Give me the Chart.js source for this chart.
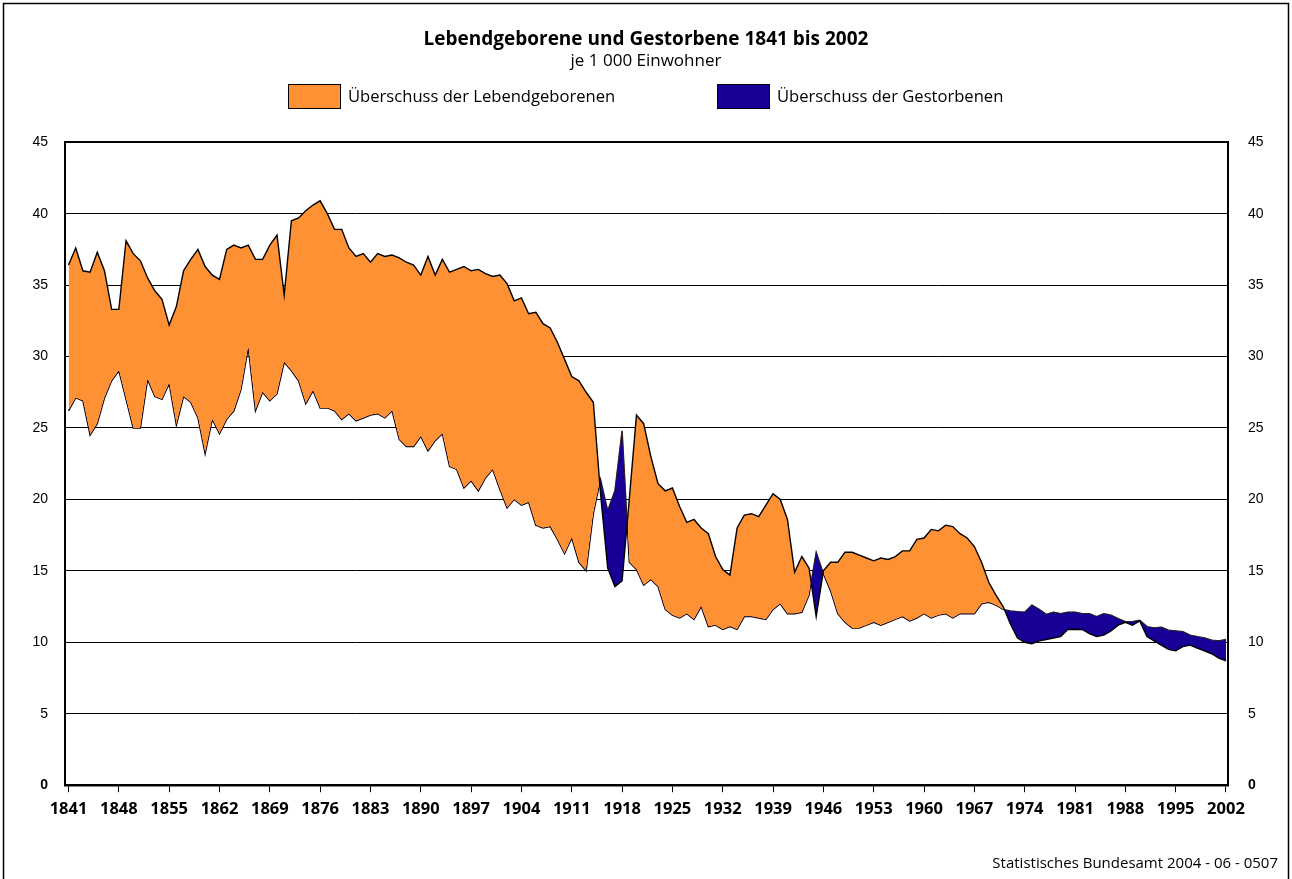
<!DOCTYPE html>
<html>
<head>
<meta charset="utf-8">
<script src="https://cdn.jsdelivr.net/npm/chart.js@4.4.1/dist/chart.umd.min.js"></script>
<style>
html,body{margin:0;padding:0;background:#fff;}
#wrap{width:1292px;height:879px;position:relative;background:#fff;}
</style>
</head>
<body>
<div id="wrap"><canvas id="c" width="1292" height="879"></canvas></div>
<script>
// ---- data ----
const firstYear = 1841;
const lastYear = 2002;
const years = [];
for (let y = firstYear; y <= lastYear; y++) years.push(y);

// Lebendgeborene je 1 000 Einwohner (1841 ... 2002)
const births = [
  36.4, 37.6, 36.0, 35.9, 37.3, 36.0, 33.3, 33.3, 38.1, 37.2,
  36.7, 35.5, 34.6, 34.0, 32.2, 33.5, 36.0, 36.8, 37.5, 36.3,
  35.7, 35.4, 37.5, 37.8, 37.6, 37.8, 36.8, 36.8, 37.8, 38.5,
  34.3, 39.5, 39.7, 40.2, 40.6, 40.9, 40.0, 38.9, 38.9, 37.6,
  37.0, 37.2, 36.6, 37.2, 37.0, 37.1, 36.9, 36.6, 36.4, 35.7,
  37.0, 35.7, 36.8, 35.9, 36.1, 36.3, 36.0, 36.1, 35.8, 35.6,
  35.7, 35.1, 33.9, 34.1, 33.0, 33.1, 32.3, 32.0, 31.0, 29.8,
  28.6, 28.3, 27.5, 26.8, 20.4, 15.2, 13.9, 14.3, 20.0, 25.9,
  25.3, 23.0, 21.1, 20.6, 20.8, 19.5, 18.4, 18.6, 18.0, 17.6,
  16.0, 15.1, 14.7, 18.0, 18.9, 19.0, 18.8, 19.6, 20.4, 20.0,
  18.6, 14.9, 16.0, 15.2, 11.8, 15.0, 15.6, 15.6, 16.3, 16.3,
  16.1, 15.9, 15.7, 15.9, 15.8, 16.0, 16.4, 16.4, 17.2, 17.3,
  17.9, 17.8, 18.2, 18.1, 17.6, 17.3, 16.7, 15.6, 14.2, 13.3,
  12.5, 11.3, 10.3, 10.0, 9.9, 10.1, 10.2, 10.3, 10.4, 10.9,
  10.9, 10.9, 10.6, 10.4, 10.5, 10.8, 11.2, 11.4, 11.2, 11.5,
  10.4, 10.1, 9.8, 9.5, 9.4, 9.7, 9.8, 9.6, 9.4, 9.2,
  8.9, 8.7
];

// Gestorbene je 1 000 Einwohner (1841 ... 2002)
const deaths = [
  26.2, 27.1, 26.9, 24.5, 25.3, 27.1, 28.3, 29.0, 27.0, 25.0,
  25.0, 28.4, 27.2, 27.0, 28.1, 25.2, 27.2, 26.8, 25.7, 23.2,
  25.6, 24.6, 25.6, 26.2, 27.7, 30.6, 26.2, 27.5, 26.9, 27.4,
  29.6, 29.0, 28.3, 26.7, 27.6, 26.4, 26.4, 26.2, 25.6, 26.0,
  25.5, 25.7, 25.9, 26.0, 25.7, 26.2, 24.2, 23.7, 23.7, 24.4,
  23.4, 24.1, 24.6, 22.3, 22.1, 20.8, 21.3, 20.6, 21.5, 22.1,
  20.7, 19.4, 20.0, 19.6, 19.8, 18.2, 18.0, 18.1, 17.2, 16.2,
  17.3, 15.6, 15.0, 19.0, 21.4, 19.2, 20.6, 24.8, 15.6, 15.1,
  14.0, 14.4, 13.9, 12.3, 11.9, 11.7, 12.0, 11.6, 12.5, 11.1,
  11.2, 10.9, 11.1, 10.9, 11.8, 11.8, 11.7, 11.6, 12.3, 12.7,
  12.0, 12.0, 12.1, 13.3, 16.3, 14.8, 13.6, 12.0, 11.4, 11.0,
  11.0, 11.2, 11.4, 11.2, 11.4, 11.6, 11.8, 11.5, 11.7, 12.0,
  11.7, 11.9, 12.0, 11.7, 12.0, 12.0, 12.0, 12.7, 12.8, 12.6,
  12.3, 12.2, 12.15, 12.1, 12.6, 12.3, 11.95, 12.1, 12.0, 12.1,
  12.1, 12.0, 12.0, 11.8, 12.0, 11.9, 11.65, 11.45, 11.45, 11.55,
  11.1, 11.0, 11.05, 10.85, 10.8, 10.75, 10.5, 10.4, 10.3, 10.15,
  10.1, 10.2
];

const xTickYears = [1841, 1848, 1855, 1862, 1869, 1876, 1883, 1890, 1897, 1904, 1911, 1918,
  1925, 1932, 1939, 1946, 1953, 1960, 1967, 1974, 1981, 1988, 1995, 2002];
const yTickValues = [0, 5, 10, 15, 20, 25, 30, 35, 40, 45];

const titleText = 'Lebendgeborene und Gestorbene 1841 bis 2002';
const subtitleText = 'je 1 000 Einwohner';
const legendLabels = ['Überschuss der Lebendgeborenen', 'Überschuss der Gestorbenen'];
const sourceText = 'Statistisches Bundesamt 2004 - 06 - 0507';

// ---- styles ----
const ORANGE = '#FF9135';
const NAVY = '#160096';
const FONT = "'Open Sans', 'DejaVu Sans', sans-serif";
const AXISFONT = "'Liberation Sans', Arial, sans-serif";

const birthsPts = years.map((y, i) => ({x: y, y: births[i]}));
const deathsPts = years.map((y, i) => ({x: y, y: deaths[i]}));

const decorPlugin = {
  id: 'decor',
  afterDraw(chart) {
    const ctx = chart.ctx;
    ctx.save();
    // legend
    const legendPos = [288, 717];
    const colors = [ORANGE, NAVY];
    ctx.font = '16.6px ' + FONT;
    ctx.textBaseline = 'middle';
    ctx.textAlign = 'left';
    legendLabels.forEach((t, i) => {
      const x = legendPos[i];
      ctx.fillStyle = colors[i];
      ctx.fillRect(x, 84, 52, 24);
      ctx.strokeStyle = '#000';
      ctx.lineWidth = 1;
      ctx.strokeRect(x + 0.5, 84.5, 52, 24);
      ctx.fillStyle = '#000';
      ctx.fillText(t, x + 60, 97);
    });
    // source
    ctx.font = '15px ' + FONT;
    ctx.textAlign = 'right';
    ctx.fillText(sourceText, 1278, 864);
    // frame
    ctx.strokeStyle = '#000';
    ctx.lineWidth = 1.5;
    ctx.strokeRect(3.5, 3.5, 1285, 900);
    ctx.restore();
  }
};

new Chart(document.getElementById('c').getContext('2d'), {
  type: 'line',
  data: {
    datasets: [
      {
        label: 'Lebendgeborene',
        data: birthsPts,
        borderColor: '#000',
        borderWidth: 1.4,
        pointRadius: 0,
        tension: 0,
        fill: {target: 1, above: ORANGE, below: NAVY}
      },
      {
        label: 'Gestorbene',
        data: deathsPts,
        borderColor: '#000',
        borderWidth: 1.4,
        pointRadius: 0,
        tension: 0,
        fill: false
      }
    ]
  },
  options: {
    responsive: false,
    animation: false,
    layout: {padding: {left: 0, right: 0, top: 0, bottom: 53}},
    plugins: {
      legend: {display: false},
      tooltip: {enabled: false},
      title: {
        display: true,
        text: titleText,
        color: '#000',
        font: {family: FONT, size: 19, weight: 'bold'},
        padding: {top: 28, bottom: 0}
      },
      subtitle: {
        display: true,
        text: subtitleText,
        color: '#000',
        font: {family: FONT, size: 17},
        padding: {top: 0, bottom: 71}
      }
    },
    scales: {
      x: {
        type: 'linear',
        min: 1840.51,
        max: 2002.28,
        afterBuildTicks: s => { s.ticks = xTickYears.map(v => ({value: v})); },
        ticks: {
          autoSkip: false,
          maxRotation: 0,
          color: '#000',
          padding: 7,
          font: {family: FONT, size: 16.5, weight: 'bold'},
          callback: v => String(v)
        },
        grid: {drawOnChartArea: false, drawTicks: true, tickLength: 7, color: '#000', tickWidth: 1},
        border: {display: true, color: '#000', width: 2.5}
      },
      y: {
        min: 0,
        max: 45,
        afterBuildTicks: s => { s.ticks = yTickValues.map(v => ({value: v})); },
        afterFit: s => { s.width = 65; },
        ticks: {
          color: '#000',
          padding: 17,
          font: ctx => ({family: AXISFONT, size: 14, weight: (ctx.tick && ctx.tick.value === 0) ? 'bold' : 'normal'})
        },
        grid: {color: '#000', lineWidth: ctx => (ctx.tick && ctx.tick.value === 45) ? 2 : 1, drawTicks: false},
        border: {display: true, color: '#000', width: 2}
      },
      y2: {
        position: 'right',
        min: 0,
        max: 45,
        afterBuildTicks: s => { s.ticks = yTickValues.map(v => ({value: v})); },
        afterFit: s => { s.width = 64; },
        ticks: {
          color: '#000',
          padding: 20,
          font: ctx => ({family: AXISFONT, size: 14, weight: (ctx.tick && ctx.tick.value === 0) ? 'bold' : 'normal'})
        },
        grid: {drawOnChartArea: false, drawTicks: false},
        border: {display: true, color: '#000', width: 2}
      }
    }
  },
  plugins: [decorPlugin]
});
</script>
</body>
</html>
